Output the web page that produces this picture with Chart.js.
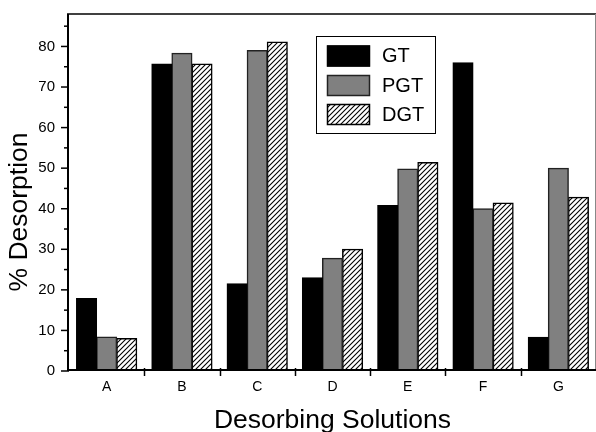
<!DOCTYPE html>
<html><head><meta charset="utf-8">
<script src="https://cdn.jsdelivr.net/npm/chart.js@4.4.1/dist/chart.umd.min.js"></script>
<style>html,body{margin:0;padding:0;background:#fff}#wrap{width:596px;height:432px}</style>
</head><body><div id="wrap"><canvas id="c" width="596" height="432"></canvas></div>
<script>
const categories = ['A','B','C','D','E','F','G'];
const seriesNames = ['GT','PGT','DGT'];
const gtValues  = [17.9, 75.7, 21.5, 23.0, 40.8, 76.0, 8.3];
const pgtValues = [8.4, 78.3, 79.0, 27.8, 49.8, 40.0, 50.0];
const dgtValues = [8.0, 75.7, 81.1, 30.0, 51.4, 41.4, 42.8];
const yMajorTicks = [0,10,20,30,40,50,60,70,80];
const yMinorTicks = [5,15,25,35,45,55,65,75,85];
const xTitle = 'Desorbing Solutions';
const yTitle = '% Desorption';

const FAM = "'Liberation Sans', Arial, Helvetica, sans-serif";

function hatch(){
  const p = document.createElement('canvas');
  p.width = 5; p.height = 5;
  const g = p.getContext('2d');
  g.fillStyle = '#fff'; g.fillRect(0,0,5,5);
  g.strokeStyle = '#000'; g.lineWidth = 1.1;
  g.beginPath();
  g.moveTo(-1,6); g.lineTo(6,-1);
  g.moveTo(-1,1); g.lineTo(1,-1);
  g.moveTo(4,6); g.lineTo(6,4);
  g.stroke();
  return document.getElementById('c').getContext('2d').createPattern(p,'repeat');
}
const hatchPattern = hatch();

const decor = {
  id:'decor',
  afterDraw(chart){
    const ctx = chart.ctx, a = chart.chartArea;
    const xs = chart.scales.x, ys = chart.scales.y;
    ctx.save();
    // frame top and right
    ctx.strokeStyle = '#000'; ctx.lineWidth = 1.5;
    ctx.beginPath(); ctx.moveTo(a.left-2, a.top); ctx.lineTo(a.right, a.top); ctx.stroke();
    ctx.strokeStyle = '#888'; ctx.lineWidth = 1;
    ctx.beginPath(); ctx.moveTo(a.right-0.5, a.top); ctx.lineTo(a.right-0.5, a.bottom); ctx.stroke();
    // axes
    ctx.strokeStyle = '#000'; ctx.lineWidth = 2;
    ctx.beginPath(); ctx.moveTo(a.left-1, a.top); ctx.lineTo(a.left-1, a.bottom); ctx.stroke();
    ctx.beginPath(); ctx.moveTo(a.left-2, a.bottom-1); ctx.lineTo(a.right, a.bottom-1); ctx.stroke();
    // y ticks
    ctx.lineWidth = 1.5;
    yMajorTicks.forEach(v=>{ const y = ys.getPixelForValue(v); ctx.beginPath(); ctx.moveTo(a.left-8, y); ctx.lineTo(a.left, y); ctx.stroke(); });
    yMinorTicks.forEach(v=>{ const y = ys.getPixelForValue(v); ctx.beginPath(); ctx.moveTo(a.left-5, y); ctx.lineTo(a.left, y); ctx.stroke(); });
    // x ticks at category boundaries
    for(let i=0;i<categories.length-1;i++){
      const x = Math.round((xs.getPixelForValue(i)+xs.getPixelForValue(i+1))/2)+0.5;
      ctx.beginPath(); ctx.moveTo(x, a.bottom-3); ctx.lineTo(x, a.bottom+5); ctx.stroke();
    }
    // titles
    ctx.fillStyle = '#000';
    ctx.font = '26.5px ' + FAM;
    ctx.textAlign = 'center'; ctx.textBaseline = 'alphabetic';
    ctx.fillText(xTitle, (a.left+a.right)/2, 428);
    ctx.save();
    ctx.translate(27, 212); ctx.rotate(-Math.PI/2);
    ctx.fillText(yTitle, 0, 0);
    ctx.restore();
    // legend
    ctx.lineWidth = 1; ctx.strokeStyle = '#000';
    ctx.fillStyle = '#fff';
    ctx.fillRect(317, 36, 119, 97);
    ctx.strokeRect(316.5, 36.5, 119, 97);
    const sy = [45.5, 75, 104];
    chart.data.datasets.forEach((ds,i)=>{
      ctx.fillStyle = ds.backgroundColor;
      ctx.fillRect(327, sy[i], 43, 21);
      ctx.strokeStyle = ds.borderColor; ctx.lineWidth = 1.5;
      ctx.strokeRect(327.5, sy[i]+0.5, 42, 20);
      ctx.fillStyle = '#000';
      ctx.font = '20px ' + FAM;
      ctx.textAlign = 'left'; ctx.textBaseline = 'middle';
      ctx.fillText(ds.label, 382, sy[i]+11);
    });
    ctx.restore();
  }
};

new Chart(document.getElementById('c'), {
  type:'bar',
  data:{
    labels: categories,
    datasets:[
      {label:seriesNames[0], data:gtValues, backgroundColor:'#000', borderColor:'#000', borderWidth:1.5},
      {label:seriesNames[1], data:pgtValues, backgroundColor:'#808080', borderColor:'#222', borderWidth:1.5},
      {label:seriesNames[2], data:dgtValues, backgroundColor:hatchPattern, borderColor:'#000', borderWidth:1.5}
    ]
  },
  options:{
    responsive:false, animation:false, devicePixelRatio:1,
    layout:{padding:{top:14,right:0,left:0,bottom:0}},
    datasets:{bar:{categoryPercentage:0.8, barPercentage:1.0, inflateAmount:0.5, borderSkipped:false}},
    plugins:{legend:{display:false}, tooltip:{enabled:false}, title:{display:false}},
    scales:{
      x:{ offset:true, grid:{display:false, drawTicks:false}, border:{display:false},
          ticks:{font:{family:FAM, size:14}, color:'#000', padding:8, maxRotation:0},
          afterFit(s){ s.height = 61; s.paddingLeft = 0; s.paddingRight = 0; } },
      y:{ min:0, max:88, grid:{display:false, drawTicks:false}, border:{display:false},
          afterBuildTicks(s){ s.ticks = yMajorTicks.map(v=>({value:v})); },
          ticks:{font:{family:FAM, size:15}, color:'#000', padding:14},
          afterFit(s){ s.width = 69; s.paddingTop = 0; s.paddingBottom = 0; } }
    }
  },
  plugins:[decor]
});
</script>
</body></html>
